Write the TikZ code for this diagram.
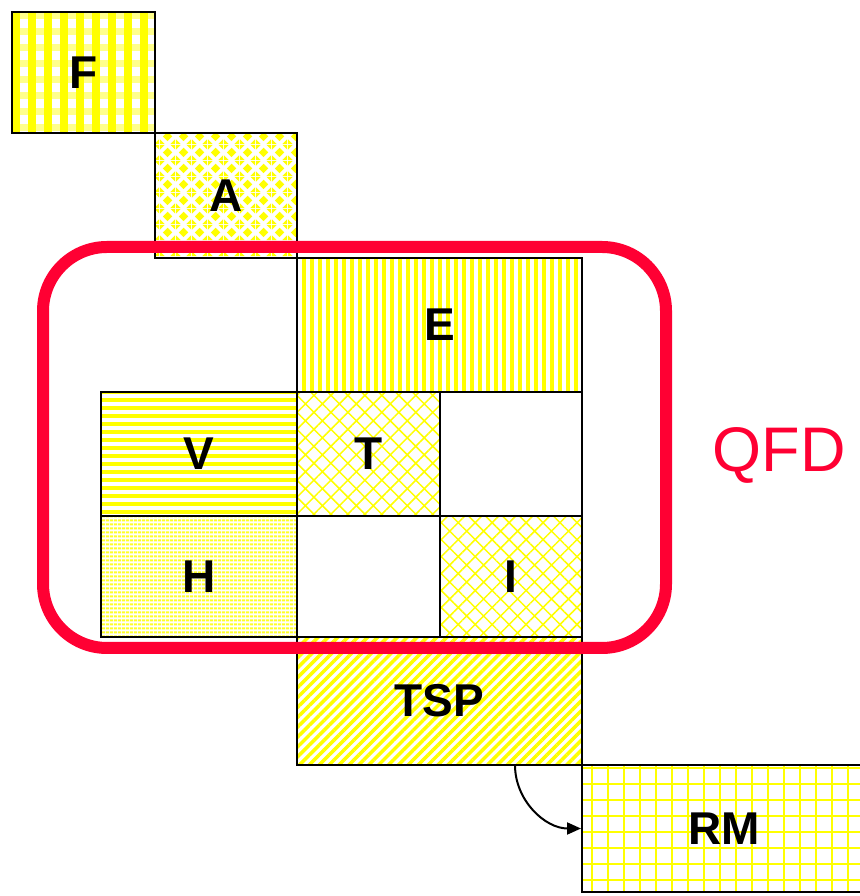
\documentclass[tikz,border=0pt]{standalone}
\usepackage{fontspec}
\setmainfont{Liberation Sans}
\usetikzlibrary{arrows.meta,patterns.meta}
\definecolor{qfdred}{RGB}{255,0,51}
\tikzdeclarepattern{
  name=diamonds,
  type=uncolored,
  bounding box={(0pt,0pt) and (16pt,16pt)},
  tile size={(16pt,16pt)},
  code={
    \fill (8pt,3pt) -- (13pt,8pt) -- (8pt,13pt) -- (3pt,8pt) -- cycle;
    \fill (0pt,0pt) -- (5pt,0pt) -- (0pt,5pt) -- cycle;
    \fill (16pt,0pt) -- (11pt,0pt) -- (16pt,5pt) -- cycle;
    \fill (0pt,16pt) -- (5pt,16pt) -- (0pt,11pt) -- cycle;
    \fill (16pt,16pt) -- (11pt,16pt) -- (16pt,11pt) -- cycle;
  }
}
\tikzset{
  cell/.style={draw, line width=2pt, rectangle, inner sep=0pt,
               font=\fontsize{46}{50}\selectfont\bfseries, pattern color=yellow},
  cellsize/.style 2 args={minimum width=#1pt, minimum height=#2pt},
  plaid/.style={cell, preaction={pattern={Lines[angle=0,distance=16pt,line width=7pt]},
                pattern color=yellow!45},
                pattern={Lines[angle=90,distance=16pt,line width=8pt]}},
  diamond/.style={cell, pattern=diamonds},
  vlines/.style={cell, pattern={Lines[angle=90,distance=8pt,line width=4pt]}},
  hlines/.style={cell, pattern={Lines[angle=0,distance=8pt,line width=4pt]}},
  finelines/.style={cell, pattern={Lines[angle=0,distance=4pt,line width=2.5pt]},
                    pattern color=yellow!85},
  cross/.style={cell, pattern={Hatch[angle=45,distance=12pt,line width=1.5pt]}},
  slant/.style={cell, pattern={Lines[angle=45,distance=7pt,line width=3.5pt]}},
  grid/.style={cell, pattern={Hatch[angle=0,distance=16pt,line width=2pt]}},
  blank/.style={cell, fill=white},
  qfdframe/.style={draw=qfdred, line width=12pt, rounded corners=64pt},
  flow/.style={-{Triangle[length=14pt,width=12pt]}, line width=2pt},
}
\begin{document}
\begin{tikzpicture}[x=1pt,y=1pt]
  \useasboundingbox (0,0) rectangle (859,896);
  \node[plaid,     cellsize={143}{121}] (F)   at (83.5,823.5) {F};
  \node[diamond,   cellsize={142}{125}] (A)   at (226,700.5)  {A};
  \node[vlines,    cellsize={285}{134}] (E)   at (439.5,571)  {E};
  \node[hlines,    cellsize={196}{124}] (V)   at (199,442)    {V};
  \node[cross,     cellsize={143}{124}] (T)   at (368.5,442)  {T};
  \node[blank,     cellsize={142}{124}] (e1)  at (511,442)    {};
  \node[finelines, cellsize={196}{121}] (H)   at (199,319.5)  {H};
  \node[blank,     cellsize={143}{121}] (e2)  at (368.5,319.5) {};
  \node[cross,     cellsize={142}{121}] (I)   at (511,319.5)  {I};
  \node[slant,     cellsize={285}{128}] (TSP) at (439.5,195)  {TSP};
  \node[grid,      cellsize={284}{127}] (RM)  at (724,67.5)   {RM};
  % QFD frame
  \draw[qfdframe] (43,248) rectangle (666,649);
  \node[text=qfdred, font=\fontsize{63}{70}\selectfont] (qfd) at (779,441) {QFD};
  \coordinate (tspout) at (515,131);
  \draw[flow] (tspout) to[out=-90,in=180] (RM.west);
\end{tikzpicture}
\end{document}
